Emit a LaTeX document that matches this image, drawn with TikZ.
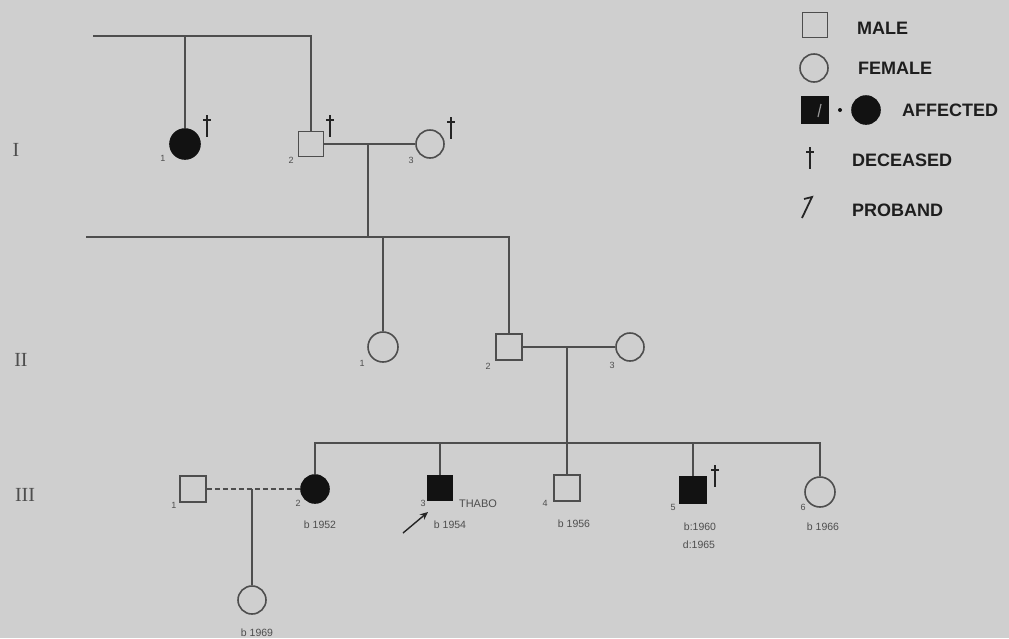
\documentclass[tikz,border=0pt]{standalone}
\usepackage{fontspec}
\setmainfont{Liberation Sans}
\newfontfamily\serifgen{Liberation Serif}
\usetikzlibrary{arrows.meta}
\definecolor{bgc}{RGB}{207,207,207}
\definecolor{ln}{RGB}{78,78,78}
\definecolor{fillk}{RGB}{18,18,18}
\tikzset{
  male/.style={draw=ln, rectangle, minimum size=25pt, inner sep=0pt, line width=1.6pt},
  female/.style={draw=ln, circle, minimum size=28pt, inner sep=0pt, line width=1.6pt},
  aff/.style={fill=fillk, draw=fillk},
  num/.style={font=\fontsize{9}{9}\selectfont, inner sep=0pt, text=ln},
  yr/.style={font=\fontsize{10.5}{11}\selectfont, inner sep=0pt, text=ln},
  leg/.style={font=\fontsize{18}{18}\selectfont\bfseries, anchor=west, inner sep=0pt, text=fillk!80!ln},
  gen/.style={font=\serifgen\fontsize{20}{20}\selectfont, inner sep=0pt, text=ln},
  link/.style={draw=ln, line width=1.6pt},
  deceased/.pic={\draw[fillk!70!ln, line width=1.8pt] (0,-11)--(0,11); \draw[fillk!70!ln, line width=1.6pt] (-4,-6)--(4,-6);}
}
\begin{document}
\begin{tikzpicture}[x=1pt,y=-1pt]
\fill[bgc] (0,0) rectangle (1009,638);
\useasboundingbox (0,0) rectangle (1009,638);

% ---------- Generation I ----------
\node[female, aff, minimum size=30pt] (I1) at (185,144) {};
\node[male] (I2) at (311,144) {};
\node[female] (I3) at (430,144) {};
\coordinate (tl) at (93,36);
\coordinate (t1) at (185,36);
\coordinate (tr) at (311,36);
\draw[link] (tl) -- (tr) -- (I2.north);
\draw[link] (t1) -- (I1.north);
\draw[link] (I2.east) -- (I3.west);
\coordinate (m1) at (368,144);
\coordinate (s2) at (368,237);
\draw[link] (m1) -- (s2);

% ---------- Generation II ----------
\node[female, minimum size=30pt] (II1) at (383,347) {};
\node[male, minimum size=26pt] (II2) at (509,347) {};
\node[female] (II3) at (630,347) {};
\coordinate (sl) at (86,237);
\coordinate (s21) at (383,237);
\coordinate (sr) at (509,237);
\draw[link] (sl) -- (sr) -- (II2.north);
\draw[link] (s21) -- (II1.north);
\draw[link] (II2.east) -- (II3.west);
\coordinate (m2) at (567,347);
\coordinate (s3) at (567,443);
\draw[link] (m2) -- (s3);

% ---------- Generation III ----------
\node[male, minimum size=26pt] (III1) at (193,489) {};
\node[female, aff] (III2) at (315,489) {};
\node[male, aff] (III3) at (440,488) {};
\node[male, minimum size=26pt] (III4) at (567,488) {};
\node[male, aff, minimum size=26pt] (III5) at (693,490) {};
\node[female, minimum size=30pt] (III6) at (820,492) {};
\coordinate (s3l) at (315,443);
\coordinate (s3r) at (820,443);
\coordinate (s33) at (440,443);
\coordinate (s35) at (693,443);
\draw[link] (III2.north) -- (s3l) -- (s3r) -- (III6.north);
\draw[link] (s33) -- (III3.north);
\draw[link] (s3) -- (III4.north);
\draw[link] (s35) -- (III5.north);
\draw[link, dash pattern=on 5pt off 3pt, line width=1.3pt] (III1.east) -- (III2.west);
\coordinate (m3) at (252,489);
\node[female] (IV1) at (252,600) {};
\draw[link] (m3) -- (IV1.north);

% proband arrow
\coordinate (pb) at (403,533);
\coordinate (pbh) at (428,512);
\draw[fillk!70!ln, line width=1.4pt, -{Stealth[length=8pt,width=7pt]}] (pb) -- (pbh);

% daggers
\pic at (207,126) {deceased};
\pic at (330,126) {deceased};
\pic at (451,128) {deceased};
\pic at (715,476) {deceased};

% number labels
\node[num] at (163,158) {1};
\node[num] at (291,160) {2};
\node[num] at (411,160) {3};
\node[num] at (362,363) {1};
\node[num] at (488,366) {2};
\node[num] at (612,365) {3};
\node[num] at (174,505) {1};
\node[num] at (298,503) {2};
\node[num] at (423,503) {3};
\node[num] at (545,503) {4};
\node[num] at (673,507) {5};
\node[num] at (803,507) {6};

% year labels
\node[yr] at (320,525) {b 1952};
\node[yr] at (450,525) {b 1954};
\node[yr] at (574,524) {b 1956};
\node[yr] at (700,527) {b:1960};
\node[yr] at (699,545) {d:1965};
\node[yr] at (823,527) {b 1966};
\node[yr] at (257,633) {b 1969};
\node[yr, font=\fontsize{11}{11}\selectfont] at (478,504) {THABO};

% generation labels
\node[gen] at (16,150) {I};
\node[gen] at (21,360) {II};
\node[gen] at (25,495) {III};

% ---------- Legend ----------
\node[male] (lm) at (815,25) {};
\node[leg] at (857,28) {MALE};
\node[female] (lf) at (814,68) {};
\node[leg] at (858,68) {FEMALE};
\node[male, aff, minimum size=26pt] (la1) at (815,110) {};
\draw[bgc!70!fillk, line width=1.2pt] (818,117) -- (821,104);
\node[circle, fill=fillk, minimum size=4pt, inner sep=0pt] (ldot) at (840,110) {};
\node[female, aff] (la2) at (866,110) {};
\node[leg] at (902,110) {AFFECTED};
\pic at (810,158) {deceased};
\node[leg] at (852,160) {DECEASED};
\coordinate (lp) at (802,218);
\coordinate (lph) at (812,197);
\coordinate (lpb) at (804,199);
\draw[fillk!70!ln, line width=1.8pt, line join=miter] (lp) -- (lph) -- (lpb);
\node[leg] at (852,210) {PROBAND};
\end{tikzpicture}
\end{document}
